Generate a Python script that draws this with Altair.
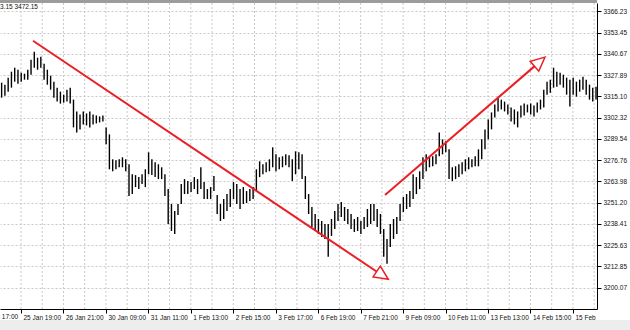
import altair as alt
import pandas as pd

# ---- data ----
high = [3323.4, 3322.2, 3326.4, 3330.0, 3332.4, 3331.2, 3329.4, 3328.8, 3331.2, 3337.2,
        3342.0, 3338.4, 3339.0, 3334.8, 3331.2, 3327.6, 3324.0, 3320.4, 3318.0, 3316.2,
        3319.2, 3320.4, 3313.2, 3306.1, 3304.3, 3306.1, 3304.9, 3306.1, 3304.3, 3303.7,
        3303.1, 3303.7, 3296.5, 3292.3, 3277.3, 3276.7, 3277.3, 3278.5, 3277.3, 3274.3,
        3268.3, 3267.8, 3266.6, 3268.3, 3271.3, 3281.5, 3277.3, 3275.5, 3274.3, 3272.5,
        3268.3, 3259.4, 3250.4, 3246.2, 3250.4, 3262.4, 3265.4, 3264.2, 3263.6, 3266.6,
        3265.4, 3272.5, 3263.6, 3259.4, 3260.6, 3267.2, 3255.8, 3250.4, 3253.4, 3256.4,
        3259.4, 3263.6, 3262.4, 3259.4, 3260.6, 3258.2, 3259.4, 3260.6, 3271.3, 3276.1,
        3274.3, 3275.5, 3277.3, 3284.5, 3280.3, 3278.5, 3279.1, 3280.3, 3279.7, 3277.3,
        3282.1, 3281.5, 3280.3, 3267.2, 3256.4, 3248.6, 3244.4, 3241.4, 3240.2, 3238.4,
        3238.4, 3241.4, 3246.2, 3250.4, 3251.6, 3248.6, 3247.4, 3244.4, 3241.4, 3242.6,
        3240.2, 3242.6, 3247.4, 3250.4, 3250.4, 3247.4, 3244.4, 3235.4, 3229.4, 3238.4,
        3241.4, 3242.6, 3250.4, 3254.6, 3256.4, 3258.2, 3268.3, 3266.6, 3270.1, 3278.5,
        3280.3, 3278.5, 3279.1, 3280.3, 3293.5, 3289.3, 3288.1, 3283.3, 3272.5, 3273.1,
        3274.3, 3275.5, 3277.3, 3278.5, 3277.3, 3279.1, 3283.3, 3289.3, 3295.3, 3301.3,
        3305.5, 3310.2, 3315.0, 3313.2, 3312.0, 3310.2, 3308.5, 3307.3, 3306.1, 3309.6,
        3310.8, 3310.2, 3310.8, 3309.6, 3311.4, 3313.2, 3319.2, 3324.0, 3325.2, 3332.4,
        3330.0, 3329.4, 3328.2, 3326.4, 3325.2, 3326.4, 3324.0, 3325.2, 3327.0, 3325.2,
        3322.2, 3320.4, 3321.0]
low = [3314.4, 3315.6, 3318.0, 3320.4, 3324.0, 3322.8, 3324.0, 3325.2, 3325.2, 3328.2,
       3332.4, 3331.2, 3332.4, 3325.2, 3322.2, 3319.2, 3314.4, 3312.0, 3310.8, 3311.4,
       3312.0, 3310.8, 3296.5, 3293.5, 3295.3, 3298.3, 3297.7, 3296.5, 3298.3, 3298.9,
       3299.5, 3300.1, 3286.3, 3271.3, 3270.1, 3271.3, 3272.5, 3272.5, 3270.1, 3255.2,
       3256.4, 3260.6, 3259.4, 3262.4, 3260.6, 3268.3, 3267.8, 3266.6, 3265.4, 3265.4,
       3255.2, 3238.4, 3234.2, 3232.4, 3243.8, 3250.4, 3256.4, 3256.4, 3257.6, 3259.4,
       3256.4, 3259.4, 3253.4, 3253.4, 3253.4, 3258.2, 3244.4, 3240.2, 3241.4, 3246.2,
       3248.6, 3253.4, 3250.4, 3247.4, 3250.4, 3251.0, 3252.2, 3253.4, 3258.2, 3266.6,
       3268.3, 3269.5, 3270.1, 3272.5, 3270.1, 3271.3, 3272.5, 3273.7, 3272.5, 3264.2,
       3268.3, 3271.3, 3265.4, 3253.4, 3244.4, 3236.6, 3234.2, 3232.4, 3230.6, 3229.4,
       3218.7, 3231.2, 3235.4, 3240.2, 3242.6, 3240.2, 3238.4, 3235.4, 3233.6, 3234.2,
       3232.4, 3235.4, 3236.6, 3238.4, 3240.2, 3236.6, 3232.4, 3218.7, 3214.5, 3224.6,
       3229.4, 3232.4, 3240.2, 3245.6, 3247.4, 3248.6, 3253.4, 3256.4, 3259.4, 3265.4,
       3270.1, 3272.5, 3273.1, 3274.3, 3279.1, 3280.3, 3281.5, 3265.4, 3264.2, 3265.4,
       3266.6, 3268.3, 3270.1, 3271.3, 3272.5, 3273.1, 3273.1, 3277.3, 3283.3, 3289.3,
       3295.3, 3302.5, 3306.1, 3307.3, 3306.1, 3304.3, 3300.1, 3298.3, 3296.5, 3302.5,
       3303.7, 3305.5, 3304.3, 3303.1, 3305.5, 3307.3, 3308.5, 3316.2, 3317.4, 3320.4,
       3321.0, 3322.2, 3320.4, 3316.2, 3309.0, 3316.2, 3315.0, 3318.0, 3319.2, 3316.2,
       3313.2, 3312.0, 3313.2]

x_labels = ["24 Jan 17:00", "25 Jan 19:00", "26 Jan 21:00", "30 Jan 09:00", "31 Jan 11:00",
            "1 Feb 13:00", "2 Feb 15:00", "3 Feb 17:00", "6 Feb 19:00", "7 Feb 21:00",
            "9 Feb 09:00", "10 Feb 11:00", "13 Feb 13:00", "14 Feb 15:00", "15 Feb"]
y_ticks = [3200.07, 3212.85, 3225.63, 3238.41, 3251.20, 3263.98, 3276.76, 3289.54,
           3302.32, 3315.10, 3327.89, 3340.67, 3353.45, 3366.23]

# arrows: start (bar, price), end of shaft, tip
arrow_x = [10.1, 117.9]
arrow_y = [3348.6, 3255.8]
arrow_x2 = [115.3, 163.8]
arrow_y2 = [3209.8, 3333.5]
tip_x = [118.9, 166.9]
tip_y = [3205.1, 3338.8]
tip_angle = [123.9, 49.1]

header_text = "3.15 3472.15"

# ---- layout ----
W, H = 597, 306
BARS_PER_LABEL = 13
FIRST_LABEL = 6.43 - BARS_PER_LABEL
x_dom = [0, 182.8]
y_dom = [3187.26, 3371.32]
RED = "#ea1f26"
FONT = "Liberation Sans"

bars = pd.DataFrame({"t": [i + 0.5 for i in range(len(high))], "high": high, "low": low})
label_pos = [FIRST_LABEL + BARS_PER_LABEL * k for k in range(len(x_labels))]
grid_pos = [6.43 + 6.5 * k for k in range(28)]
arrows = pd.DataFrame({"x": arrow_x, "y": arrow_y, "x2": arrow_x2, "y2": arrow_y2})
tips = pd.DataFrame({"x": tip_x, "y": tip_y, "ang": tip_angle})

xs = alt.Scale(domain=x_dom, nice=False, zero=False)
ys = alt.Scale(domain=y_dom, nice=False, zero=False)

lab_js = "[" + ",".join("'" + s + "'" for s in x_labels) + "]"
x_axis = alt.Axis(values=label_pos, title=None, grid=False, orient="bottom",
                  labelExpr=f"{lab_js}[round((datum.value - ({FIRST_LABEL}))/{BARS_PER_LABEL})]",
                  labelAlign="left", labelBaseline="top", labelPadding=1, labelOffset=2,
                  labelFlush=False, labelOverlap=False, labelFont=FONT, labelFontSize=6.5,
                  labelColor="#111", domainColor="#000", tickColor="#000", tickSize=4)
y_axis = alt.Axis(values=y_ticks, format=".2f", title=None, orient="right",
                  grid=True, gridColor="#c8c8c8", gridDash=[2, 2],
                  labelFont=FONT, labelFontSize=6.5, labelColor="#111", labelPadding=2,
                  labelOverlap=False, labelFlush=False,
                  domainColor="#000", tickColor="#000", tickSize=4)

vgrid = alt.Chart(pd.DataFrame({"g": grid_pos})).mark_rule(
    color="#c8c8c8", strokeDash=[2, 2], strokeWidth=1
).encode(x=alt.X("g:Q", scale=xs, axis=x_axis))

bar_layer = alt.Chart(bars).mark_rule(color="#000", strokeWidth=1.4).encode(
    x=alt.X("t:Q", scale=xs, axis=x_axis),
    y=alt.Y("low:Q", scale=ys, axis=y_axis),
    y2="high:Q",
)

arrow_layer = alt.Chart(arrows).mark_rule(color=RED, strokeWidth=2).encode(
    x=alt.X("x:Q", scale=xs, axis=x_axis),
    y=alt.Y("y:Q", scale=ys, axis=y_axis),
    x2="x2:Q", y2="y2:Q",
)

head_layer = alt.Chart(tips).mark_point(
    shape="M0,0L0.65,1.4L-0.65,1.4Z", size=400, filled=True, fill="white",
    stroke=RED, strokeWidth=1.5, opacity=1
).encode(
    x=alt.X("x:Q", scale=xs, axis=x_axis),
    y=alt.Y("y:Q", scale=ys, axis=y_axis),
    angle=alt.Angle("ang:Q", scale=None),
)

# first (partly hidden) time label, left of the plot edge
first_label = alt.Chart(pd.DataFrame({"p": [label_pos[0]], "s": [x_labels[0]]})).mark_text(
    align="left", baseline="top", font=FONT, fontSize=6.5, color="#111", dx=2
).encode(x=alt.X("p:Q", scale=xs, axis=x_axis), y=alt.value(H + 5), text="s:N")

one = pd.DataFrame({"a": [0]})
top_strip = alt.Chart(one).mark_rect(color="#9c9c9c").encode(
    x=alt.value(0), x2=alt.value(W), y=alt.value(-3), y2=alt.value(0))
bottom_strip = alt.Chart(one).mark_rect(color="#ededed").encode(
    x=alt.value(0), x2=alt.value(W + 33), y=alt.value(317), y2=alt.value(328))
header = alt.Chart(pd.DataFrame({"s": [header_text]})).mark_text(
    align="left", baseline="middle", font=FONT, fontSize=6.5, color="#111"
).encode(x=alt.value(0), y=alt.value(3.5), text="s:N")

chart = alt.layer(
    vgrid, bar_layer, arrow_layer, head_layer, first_label, top_strip, bottom_strip, header
).properties(
    width=W, height=H,
    autosize=alt.AutoSizeParams(type="none"),
    padding={"left": 0, "top": 3, "right": 33, "bottom": 21},
    background="white",
).configure_view(stroke=None)

chart.save("out.html", embed_options={"renderer": "svg", "actions": False})
